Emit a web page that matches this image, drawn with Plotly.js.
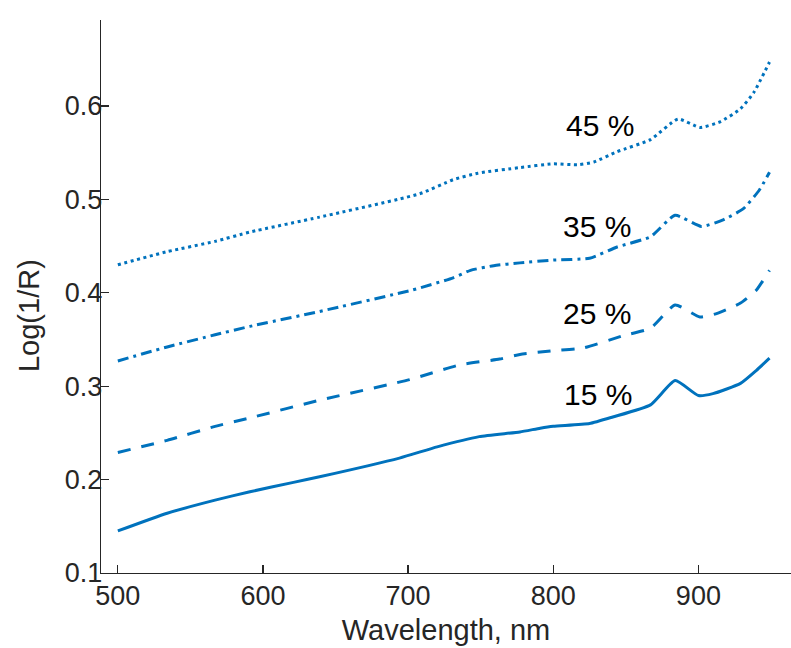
<!DOCTYPE html>
<html>
<head>
<meta charset="utf-8">
<script src="https://cdn.plot.ly/plotly-3.0.1.min.js"></script>
<style>html,body{margin:0;padding:0;background:#fff;}#chart{width:791px;height:648px;}</style>
</head>
<body>
<div id="chart"></div>
<script>
// Wavelength (nm) and Log(1/R) values
const wl15 = [500, 534, 567, 591, 621, 639, 694, 720, 749, 777, 791, 800, 825, 841, 867, 884, 900, 910, 929, 940, 949];
const v15  = [0.145, 0.164, 0.178, 0.187, 0.197, 0.203, 0.223, 0.235, 0.246, 0.251, 0.255, 0.257, 0.260, 0.267, 0.280, 0.306, 0.290, 0.292, 0.303, 0.317, 0.330];

const wl25 = [500, 534, 567, 591, 639, 701, 736, 763, 777, 800, 821, 848, 867, 884, 901, 913, 929, 940, 949];
const v25  = [0.229, 0.242, 0.257, 0.266, 0.285, 0.307, 0.323, 0.329, 0.334, 0.338, 0.341, 0.354, 0.362, 0.387, 0.374, 0.378, 0.389, 0.403, 0.424];

const wl35 = [500, 534, 567, 591, 639, 703, 731, 743, 759, 777, 800, 825, 844, 867, 884, 902, 917, 931, 942, 949];
const v35  = [0.327, 0.342, 0.355, 0.364, 0.380, 0.403, 0.416, 0.424, 0.429, 0.432, 0.435, 0.437, 0.449, 0.460, 0.483, 0.471, 0.478, 0.490, 0.510, 0.529];

const wl45 = [500, 534, 567, 591, 639, 708, 731, 748, 777, 800, 817, 828, 844, 867, 886, 901, 915, 929, 938, 949];
const v45  = [0.430, 0.444, 0.455, 0.465, 0.481, 0.506, 0.521, 0.528, 0.534, 0.538, 0.537, 0.540, 0.551, 0.564, 0.586, 0.577, 0.583, 0.597, 0.614, 0.647];

const seriesLabels = ['15 %', '25 %', '35 %', '45 %'];
const labelX = [831, 830, 830, 832];
const labelY = [0.2916, 0.3773, 0.4708, 0.5786];

const xTicks = [500, 600, 700, 800, 900];
const yTicks = [0.1, 0.2, 0.3, 0.4, 0.5, 0.6];
const yTickText = ['0.1', '0.2', '0.3', '0.4', '0.5', '0.6'];

const blue = '#0072BD';
const dashes = ['solid', '13px,11px', '11px,5px,3px,5px', '3px,3.6px'];
const xs = [wl15, wl25, wl35, wl45];
const ys = [v15, v25, v35, v45];

const traces = xs.map((x, i) => ({
  x: x, y: ys[i], type: 'scatter', mode: 'lines',
  line: {color: blue, width: 3, dash: dashes[i], shape: 'spline', smoothing: 0.5},
  name: seriesLabels[i], hoverinfo: 'skip'
}));

const FAM = 'Liberation Sans, Arial, sans-serif';
const axisFont = {family: FAM, size: 27, color: '#262626'};

const annotations = seriesLabels.map((t, i) => ({
  x: labelX[i], y: labelY[i], xref: 'x', yref: 'y', text: t, showarrow: false,
  font: {family: FAM, size: 30, color: '#000000'},
  xanchor: 'center', yanchor: 'middle'
}));
annotations.push({
  x: 0, y: 0.4647, xref: 'paper', yref: 'paper', xshift: -72,
  text: 'Log(1/R)', showarrow: false, textangle: -90,
  font: {family: FAM, size: 29, color: '#262626'},
  xanchor: 'center', yanchor: 'middle'
});

const layout = {
  width: 791, height: 648,
  margin: {l: 101, r: 0, t: 20, b: 75},
  paper_bgcolor: '#ffffff', plot_bgcolor: '#ffffff',
  showlegend: false,
  xaxis: {
    range: [488.4, 963.8], tickvals: xTicks, ticktext: xTicks.map(String),
    ticks: 'inside', ticklen: 8, tickwidth: 1.3, tickcolor: '#262626',
    showline: true, linecolor: '#262626', linewidth: 1.3,
    showgrid: false, zeroline: false, tickfont: axisFont, ticklabelstandoff: -2,
    title: {text: 'Wavelength, nm', font: {family: FAM, size: 29, color: '#262626'}, standoff: 10}
  },
  yaxis: {
    range: [0.1, 0.692], tickvals: yTicks, ticktext: yTickText,
    ticks: 'inside', ticklen: 8, tickwidth: 1.3, tickcolor: '#262626',
    showline: true, linecolor: '#262626', linewidth: 1.3,
    showgrid: false, zeroline: false, tickfont: axisFont, ticklabelstandoff: -8
  },
  annotations: annotations
};

Plotly.newPlot('chart', traces, layout, {staticPlot: true, displayModeBar: false});
</script>
</body>
</html>
